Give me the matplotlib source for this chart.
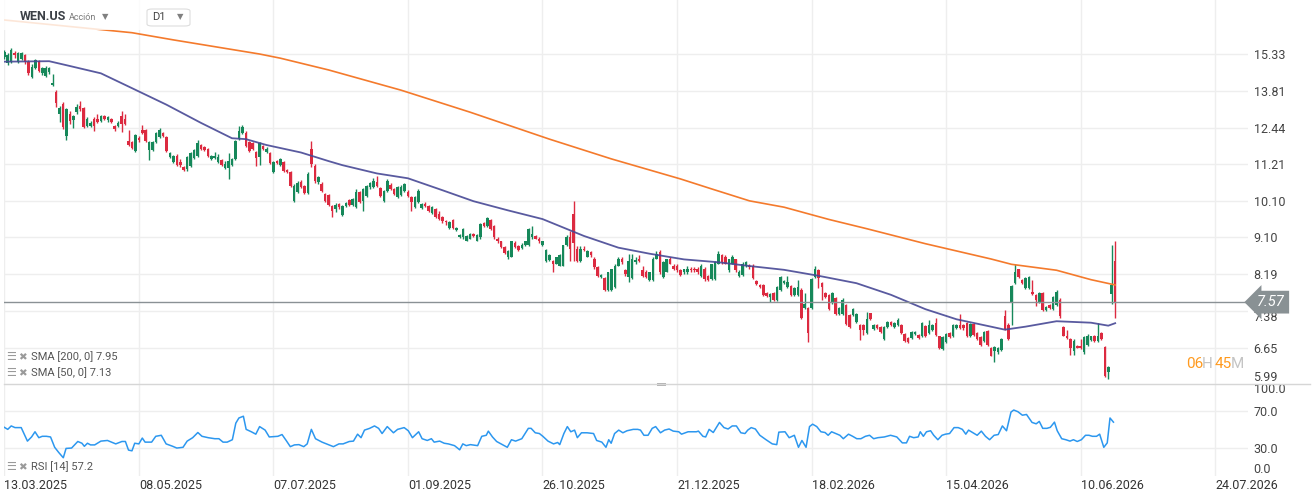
import numpy as np
import matplotlib.pyplot as plt
from matplotlib.patches import Rectangle, FancyBboxPatch
from matplotlib.lines import Line2D
from matplotlib.transforms import blended_transform_factory

plt.rcParams['font.family'] = ['Roboto', 'DejaVu Sans']

# daily candles, WEN.US
opens = [
    15.21, 14.96, 15.00, 15.39, 15.00, 15.13, 15.30, 15.00, 14.37, 14.74,
    15.04, 14.54, 14.41, 14.58, 14.05, 13.77, 12.92, 13.31, 12.14, 12.95,
    12.70, 12.99, 13.24, 13.17, 12.49, 12.49, 12.74, 12.74, 12.67, 12.85,
    12.70, 12.74, 12.49, 12.49, 12.85, 12.74, 11.97, 11.94, 11.64, 12.07,
    12.35, 12.35, 11.67, 11.67, 11.94, 12.11, 12.25, 12.11, 11.44, 11.28,
    11.47, 11.28, 11.12, 11.05, 11.15, 11.41, 11.47, 11.84, 11.77, 11.70,
    11.38, 11.41, 11.28, 11.34, 11.08, 11.08, 11.18, 11.38, 12.04, 12.25,
    12.25, 11.94, 11.90, 11.60, 11.44, 11.80, 11.60, 11.57, 10.96, 11.31,
    11.18, 11.28, 11.02, 10.96, 10.10, 10.37, 10.66, 10.54, 10.34, 11.70,
    11.15, 10.66, 10.60, 10.31, 10.28, 9.96, 9.87, 10.01, 9.71, 9.96,
    10.13, 9.99, 9.93, 10.37, 10.10, 10.25, 10.51, 10.51, 10.66, 10.48,
    10.10, 10.39, 10.57, 10.45, 10.22, 10.28, 10.39, 10.37, 10.22, 9.93,
    10.07, 9.90, 10.01, 9.96, 9.76, 9.87, 9.73, 9.65, 9.54, 9.35,
    9.57, 9.30, 9.12, 9.10, 9.02, 9.07, 9.20, 9.02, 9.10, 9.49,
    9.41, 9.57, 9.41, 9.07, 9.00, 8.85, 8.62, 8.62, 8.97, 8.87,
    8.82, 8.90, 8.90, 9.10, 9.15, 9.07, 8.90, 8.50, 8.53, 8.52,
    8.45, 8.40, 8.40, 8.90, 9.10, 9.73, 8.80, 8.50, 8.80, 8.62,
    8.72, 8.57, 8.36, 8.14, 8.11, 7.84, 7.84, 7.91, 8.40, 8.57,
    8.29, 8.14, 8.11, 8.48, 8.57, 8.29, 8.26, 8.07, 8.07, 8.57,
    8.72, 8.14, 8.26, 8.55, 8.40, 8.40, 8.29, 8.24, 8.24, 8.33,
    8.33, 8.33, 8.16, 8.33, 8.16, 8.09, 8.09, 8.45, 8.65, 8.62,
    8.29, 8.45, 8.55, 8.16, 8.18, 8.38, 8.40, 8.40, 8.05, 7.96,
    7.96, 7.78, 7.69, 7.78, 7.62, 7.84, 8.00, 7.91, 7.93, 7.73,
    7.73, 7.84, 7.45, 7.45, 7.45, 8.14, 8.29, 8.00, 7.78, 7.73,
    7.56, 7.67, 7.31, 7.31, 7.51, 7.29, 7.29, 7.16, 7.10, 7.10,
    6.94, 7.33, 7.02, 7.10, 7.06, 6.81, 7.06, 7.16, 7.06, 7.10,
    7.10, 6.92, 6.83, 6.83, 6.92, 6.90, 6.87, 7.08, 6.94, 7.00,
    7.14, 6.87, 6.62, 6.75, 6.94, 6.87, 7.04, 7.10, 7.10, 7.14,
    6.87, 7.12, 6.94, 6.85, 6.77, 6.98, 6.65, 6.58, 6.56, 6.60,
    7.27, 7.10, 7.56, 8.00, 8.31, 8.07, 7.89, 7.89, 7.80, 7.73,
    7.58, 7.78, 7.41, 7.51, 7.43, 7.51, 7.62, 7.06, 6.88, 6.81,
    6.58, 6.69, 6.69, 6.56, 6.71, 6.79, 6.88, 6.77, 6.94, 6.67,
    6.20, 7.75, 8.50,
]
highs = [
    15.52, 15.39, 15.61, 15.47, 15.43, 15.43, 15.34, 15.08, 14.91, 15.13,
    15.08, 14.79, 14.83, 14.79, 14.50, 13.85, 13.24, 13.39, 13.17, 13.03,
    12.88, 13.31, 13.43, 13.21, 12.81, 12.67, 12.81, 12.95, 12.88, 12.88,
    12.85, 12.78, 12.53, 12.67, 13.03, 12.95, 12.35, 11.97, 12.21, 12.14,
    12.53, 12.39, 11.97, 11.97, 12.28, 12.42, 12.28, 12.14, 11.60, 11.51,
    11.54, 11.38, 11.15, 11.47, 11.60, 11.70, 12.01, 11.87, 11.80, 11.74,
    11.51, 11.60, 11.54, 11.38, 11.31, 11.57, 11.41, 12.01, 12.49, 12.53,
    12.32, 11.97, 11.94, 11.64, 11.94, 11.84, 11.77, 11.60, 11.31, 11.34,
    11.41, 11.31, 11.05, 10.99, 10.60, 10.69, 10.72, 10.57, 10.96, 11.97,
    11.21, 10.84, 10.66, 10.34, 10.31, 9.99, 10.04, 10.04, 9.99, 10.07,
    10.16, 10.19, 10.45, 10.39, 10.48, 10.57, 10.66, 10.78, 10.84, 10.51,
    10.42, 10.75, 10.63, 10.48, 10.54, 10.57, 10.63, 10.42, 10.25, 10.25,
    10.45, 10.04, 10.07, 9.99, 9.96, 9.90, 9.82, 9.68, 9.57, 9.54,
    9.59, 9.38, 9.20, 9.35, 9.17, 9.22, 9.22, 9.20, 9.49, 9.51,
    9.65, 9.59, 9.43, 9.10, 9.02, 8.87, 8.77, 9.02, 9.00, 8.90,
    8.95, 9.02, 9.35, 9.41, 9.17, 9.10, 9.02, 8.80, 8.67, 8.53,
    8.62, 8.67, 8.92, 9.17, 9.28, 10.10, 8.87, 8.87, 8.87, 8.77,
    8.75, 8.60, 8.38, 8.20, 8.14, 8.26, 8.33, 8.43, 8.62, 8.60,
    8.31, 8.67, 8.67, 8.62, 8.65, 8.38, 8.29, 8.26, 8.60, 8.75,
    8.77, 8.50, 8.57, 8.60, 8.43, 8.43, 8.31, 8.33, 8.40, 8.36,
    8.36, 8.36, 8.43, 8.36, 8.18, 8.45, 8.50, 8.75, 8.67, 8.65,
    8.57, 8.65, 8.57, 8.29, 8.48, 8.52, 8.45, 8.43, 8.07, 7.98,
    7.98, 7.80, 7.78, 7.80, 7.93, 8.16, 8.07, 8.16, 7.96, 7.91,
    8.07, 7.89, 7.78, 7.47, 8.11, 8.40, 8.31, 8.02, 7.80, 7.75,
    7.80, 7.69, 7.47, 7.67, 7.54, 7.31, 7.45, 7.33, 7.12, 7.12,
    7.37, 7.35, 7.12, 7.12, 7.08, 7.08, 7.18, 7.18, 7.16, 7.24,
    7.12, 6.94, 6.85, 6.98, 6.98, 6.92, 7.16, 7.10, 7.20, 7.12,
    7.24, 6.88, 6.87, 6.94, 6.96, 7.12, 7.12, 7.31, 7.12, 7.16,
    7.14, 7.14, 6.96, 6.87, 6.98, 7.00, 6.67, 6.69, 6.67, 6.83,
    7.41, 7.14, 7.96, 8.45, 8.33, 8.09, 8.14, 8.16, 8.07, 7.75,
    7.80, 7.80, 7.49, 7.54, 7.71, 7.84, 7.65, 7.08, 7.00, 6.83,
    6.81, 6.71, 6.81, 6.87, 6.92, 6.88, 6.90, 7.14, 6.96, 6.69,
    6.31, 8.90, 9.02,
]
lows = [
    15.13, 14.87, 14.96, 15.17, 14.96, 15.08, 14.91, 14.45, 14.33, 14.70,
    14.58, 14.45, 14.37, 14.50, 14.01, 13.21, 12.63, 12.39, 12.01, 12.56,
    12.42, 12.92, 13.03, 12.42, 12.46, 12.46, 12.32, 12.60, 12.63, 12.70,
    12.63, 12.60, 12.32, 12.46, 12.28, 12.53, 11.80, 11.70, 11.60, 11.94,
    12.21, 11.94, 11.34, 11.64, 11.90, 12.07, 12.11, 11.60, 11.41, 11.25,
    11.15, 11.12, 10.99, 10.99, 11.12, 11.38, 11.44, 11.67, 11.64, 11.44,
    11.34, 11.38, 11.25, 11.15, 11.05, 10.75, 11.15, 11.34, 12.01, 12.21,
    11.77, 11.60, 11.67, 11.15, 11.18, 11.67, 11.57, 11.21, 10.93, 11.21,
    11.15, 10.96, 10.93, 10.51, 10.07, 10.34, 10.48, 10.31, 10.31, 11.12,
    10.63, 10.60, 10.37, 10.07, 9.96, 9.65, 9.79, 9.87, 9.68, 9.93,
    9.96, 9.96, 9.90, 10.04, 9.82, 10.22, 10.45, 10.48, 10.51, 10.22,
    10.07, 10.37, 10.42, 10.28, 10.19, 10.25, 10.37, 10.22, 9.82, 9.90,
    10.04, 9.87, 9.93, 9.79, 9.73, 9.62, 9.57, 9.49, 9.43, 9.33,
    9.33, 9.28, 9.09, 9.07, 9.00, 9.05, 9.10, 9.00, 9.07, 9.38,
    9.38, 9.30, 9.07, 8.97, 8.82, 8.67, 8.57, 8.60, 8.82, 8.75,
    8.80, 8.87, 8.87, 9.07, 9.05, 8.97, 8.87, 8.48, 8.52, 8.26,
    8.43, 8.38, 8.38, 8.87, 8.52, 8.52, 8.48, 8.48, 8.75, 8.60,
    8.62, 8.33, 8.14, 8.11, 7.82, 7.82, 7.82, 7.89, 8.38, 8.45,
    8.16, 8.02, 8.09, 8.45, 8.48, 8.14, 8.11, 8.05, 8.05, 8.55,
    8.20, 8.11, 8.24, 8.43, 8.29, 8.26, 8.16, 8.20, 8.20, 8.26,
    8.26, 8.20, 8.14, 8.05, 8.05, 8.07, 8.07, 8.43, 8.45, 8.43,
    8.26, 8.43, 8.26, 8.14, 8.16, 8.36, 8.33, 8.09, 7.96, 7.89,
    7.71, 7.69, 7.58, 7.60, 7.60, 7.82, 7.98, 7.89, 7.71, 7.71,
    7.71, 7.22, 7.43, 6.75, 7.43, 8.11, 7.89, 7.62, 7.67, 7.41,
    7.54, 7.29, 7.29, 7.29, 7.10, 7.04, 7.27, 7.14, 6.79, 6.90,
    6.92, 7.20, 7.00, 7.02, 6.94, 6.79, 7.04, 7.08, 7.04, 7.08,
    6.92, 6.75, 6.73, 6.81, 6.90, 6.81, 6.85, 6.85, 6.92, 6.98,
    6.88, 6.62, 6.60, 6.73, 6.83, 6.85, 7.02, 7.02, 7.00, 6.85,
    6.85, 6.88, 6.79, 6.69, 6.75, 6.69, 6.49, 6.38, 6.54, 6.58,
    7.00, 6.79, 7.10, 7.98, 8.11, 7.98, 7.87, 7.87, 7.73, 7.49,
    7.56, 7.39, 7.39, 7.43, 7.41, 7.49, 7.24, 6.87, 6.81, 6.52,
    6.52, 6.64, 6.62, 6.54, 6.69, 6.77, 6.75, 6.75, 6.79, 6.11,
    6.08, 7.52, 7.24,
]
closes = [
    15.43, 15.30, 15.52, 15.30, 15.39, 15.39, 15.00, 14.54, 14.79, 15.08,
    14.62, 14.74, 14.74, 14.74, 14.13, 13.35, 13.17, 12.46, 13.10, 12.67,
    12.85, 13.21, 13.10, 12.46, 12.74, 12.60, 12.49, 12.63, 12.85, 12.74,
    12.81, 12.63, 12.39, 12.60, 12.56, 12.56, 11.84, 11.74, 12.18, 12.01,
    12.25, 11.97, 11.94, 11.94, 12.25, 12.35, 12.14, 11.64, 11.57, 11.47,
    11.18, 11.18, 11.02, 11.44, 11.57, 11.67, 11.90, 11.70, 11.67, 11.47,
    11.47, 11.47, 11.44, 11.18, 11.21, 11.31, 11.38, 11.97, 12.32, 12.46,
    11.80, 11.64, 11.70, 11.41, 11.90, 11.70, 11.70, 11.25, 11.28, 11.25,
    11.38, 10.99, 10.96, 10.54, 10.54, 10.63, 10.51, 10.34, 10.90, 11.21,
    10.69, 10.81, 10.39, 10.10, 9.99, 9.82, 9.99, 9.93, 9.96, 10.04,
    9.99, 10.16, 10.37, 10.07, 10.45, 10.54, 10.63, 10.69, 10.54, 10.25,
    10.39, 10.69, 10.45, 10.31, 10.51, 10.51, 10.60, 10.25, 10.07, 10.22,
    10.39, 10.01, 9.96, 9.82, 9.93, 9.65, 9.59, 9.54, 9.51, 9.51,
    9.35, 9.35, 9.17, 9.33, 9.15, 9.20, 9.15, 9.17, 9.46, 9.41,
    9.62, 9.33, 9.10, 9.00, 8.85, 8.70, 8.75, 9.00, 8.85, 8.77,
    8.92, 9.00, 9.33, 9.20, 9.07, 9.00, 9.00, 8.77, 8.65, 8.45,
    8.60, 8.65, 8.90, 9.10, 8.80, 8.95, 8.50, 8.80, 8.77, 8.75,
    8.65, 8.36, 8.16, 8.18, 7.84, 8.24, 8.31, 8.40, 8.57, 8.48,
    8.20, 8.52, 8.57, 8.53, 8.50, 8.16, 8.14, 8.24, 8.57, 8.67,
    8.24, 8.48, 8.55, 8.45, 8.31, 8.29, 8.18, 8.31, 8.33, 8.29,
    8.29, 8.24, 8.40, 8.09, 8.07, 8.43, 8.48, 8.67, 8.48, 8.45,
    8.55, 8.62, 8.29, 8.24, 8.45, 8.48, 8.36, 8.11, 7.98, 7.91,
    7.73, 7.71, 7.75, 7.62, 7.91, 8.14, 8.05, 8.02, 7.73, 7.89,
    7.91, 7.24, 7.52, 6.94, 8.09, 8.33, 8.11, 7.91, 7.69, 7.43,
    7.78, 7.31, 7.45, 7.62, 7.12, 7.06, 7.43, 7.31, 7.00, 7.00,
    7.22, 7.22, 7.10, 7.04, 6.96, 7.06, 7.16, 7.10, 7.14, 7.20,
    6.94, 6.77, 6.75, 6.96, 6.96, 6.83, 7.14, 6.87, 7.10, 7.10,
    6.90, 6.65, 6.85, 6.92, 6.85, 7.10, 7.10, 7.04, 7.04, 6.87,
    7.12, 6.90, 6.81, 6.71, 6.96, 6.71, 6.50, 6.67, 6.65, 6.81,
    7.02, 6.81, 7.93, 8.24, 8.14, 8.00, 8.11, 8.14, 7.75, 7.62,
    7.78, 7.41, 7.47, 7.45, 7.69, 7.80, 7.27, 6.88, 6.83, 6.65,
    6.77, 6.65, 6.64, 6.85, 6.87, 6.87, 6.77, 6.87, 6.81, 6.13,
    6.29, 7.96, 7.57,
]

# moving averages, read at points along the lines (bar index, value)
sma200_idx = [0, 37, 49, 74, 80, 94, 115, 135, 158, 176, 196, 205, 216, 226,
              239, 250, 267, 286, 292, 305, 315, 322]
sma200_val = [16.90, 16.30, 15.97, 15.34, 15.16, 14.66, 13.84, 13.00, 12.04,
              11.38, 10.75, 10.45, 10.10, 9.92, 9.58, 9.33, 8.94, 8.56, 8.43,
              8.29, 8.07, 7.95]
sma50_idx = [0, 13, 18, 28, 37, 47, 57, 66, 70, 76, 86, 94, 98, 108, 117, 127,
             136, 146, 156, 168, 178, 187, 197, 207, 216, 226, 236, 247, 257,
             267, 276, 286, 290, 296, 305, 315, 320, 322]
sma50_val = [15.01, 15.03, 14.86, 14.52, 13.92, 13.28, 12.61, 12.07, 12.04,
             11.84, 11.59, 11.31, 11.18, 10.92, 10.77, 10.41, 10.09, 9.83, 9.59,
             9.14, 8.84, 8.69, 8.55, 8.48, 8.39, 8.30, 8.16, 7.99, 7.73, 7.42,
             7.21, 7.06, 7.00, 7.06, 7.17, 7.14, 7.08, 7.13]

# RSI(14)
rsi_idx = [0, 1, 2, 3.1, 4.9, 6.7, 7.9, 8.9, 10, 11, 12.2, 13.4, 14.6, 15.8,
           17.1, 17.9, 19.5, 21.3, 22.5, 23.2, 24.1, 25, 26.2, 28, 29.9, 31.1,
           32.3, 34.1, 35.1, 36, 37, 37.8, 39, 40, 40.8, 42.7, 43.9, 45.5, 46.9,
           48.8, 50, 51.8, 53, 54.6, 56.1, 57.3, 59.1, 61, 62.2, 63.4, 64.6,
           66.1, 67.1, 68, 69.3, 70.1, 71.6, 72.9, 74, 75.6, 76.8, 79.3, 80.5,
           81.7, 82.9, 84.1, 85.4, 86.8, 87.8, 89, 90.2, 92.1, 93.9, 95.4, 97,
           98.2, 100, 101.2, 102.4, 103.4, 104.4, 105.9, 107.3, 108.5, 109.5,
           111, 112.8, 114, 115.9, 117.1, 118.3, 120.1, 121.1, 122.6, 123.8,
           124.6, 126.2, 127.5, 128.7, 130.5, 132, 132.9, 133.9, 135.1, 137.2,
           138.4, 139.7, 140.3, 141.5, 142.7, 144.5, 145.8, 147, 148.2, 150,
           151.9, 152.7, 153.9, 155.1, 156.1, 157.6, 159.2, 160.4, 161, 162.2,
           163.2, 164.2, 165.3, 166.1, 167.3, 168.9, 170.8, 171.7, 173.2, 174.4,
           175.2, 175.9, 176.9, 178.1, 179.3, 180.5, 182.3, 183.6, 184.4, 185.4,
           186.6, 187.8, 188.8, 190.2, 191.4, 192.7, 193.9, 195.5, 196.3, 198.2,
           199.4, 200.6, 201.2, 202.5, 203.3, 204.3, 205.5, 207.3, 208.6, 209.8,
           211, 212.2, 213.5, 214.7, 215.5, 216.5, 217.7, 219, 220.8, 222.6,
           223.9, 224.5, 226.3, 227.5, 229, 230.2, 231.2, 232.4, 233.4, 234.3,
           235.5, 236.7, 237.9, 238.8, 239.8, 241, 242.2, 243.2, 244.7, 245.9,
           247.1, 248.3, 249.6, 250.8, 252, 253.2, 255.1, 256.9, 258.7, 260.3,
           261.5, 262.4, 263.6, 264.9, 265.5, 266.4, 267.3, 268.5, 269.4, 270.6,
           271.8, 272.8, 274, 275.3, 276.5, 277.7, 278.7, 279.5, 280.8, 282,
           283.2, 284.4, 285.6, 286.9, 288.1, 289.3, 290.5, 291.8, 292.6, 293.8,
           295.1, 296.3, 297.9, 299.1, 300, 301, 302.2, 303.2, 304.4, 305.2,
           306.5, 307.7, 308.9, 309.9, 311, 312.2, 313.4, 314.4, 315.4, 316.6,
           317.5, 318.7, 319.7, 320.5, 321.5]
rsi_val = [52.4, 50.2, 53.9, 52.1, 52.1, 37.5, 42.0, 47.6, 41.2, 42.7, 42.7,
           42.0, 30.8, 25.1, 19.5, 29.6, 30.0, 37.1, 35.2, 31.9, 35.2, 33.4,
           33.4, 37.5, 38.2, 36.4, 34.5, 37.1, 37.1, 27.8, 27.0, 35.2, 34.5,
           40.8, 36.4, 36.4, 42.7, 43.8, 34.5, 31.9, 30.0, 30.8, 37.5, 41.2,
           46.8, 42.7, 41.2, 40.1, 40.1, 36.4, 36.4, 39.0, 56.9, 62.5, 64.4,
           50.2, 47.6, 45.0, 53.2, 49.4, 42.0, 42.7, 44.6, 38.2, 31.5, 33.4,
           33.7, 31.5, 34.5, 50.2, 40.1, 36.4, 33.7, 31.5, 34.5, 34.5, 37.1,
           37.5, 45.0, 41.2, 49.4, 51.3, 53.9, 51.3, 45.7, 53.2, 46.5, 50.2,
           52.1, 48.7, 41.2, 47.6, 40.1, 38.2, 40.1, 36.4, 37.5, 35.2, 34.5,
           32.6, 28.1, 34.5, 32.6, 33.7, 32.6, 42.7, 43.8, 48.3, 42.0, 37.1,
           33.4, 30.8, 39.0, 37.5, 40.1, 51.3, 51.3, 46.5, 45.7, 42.7, 37.5,
           34.5, 36.0, 33.7, 45.7, 53.2, 47.6, 49.4, 41.2, 46.5, 46.5, 45.7,
           38.2, 36.4, 30.8, 39.0, 35.2, 45.7, 49.4, 46.5, 48.7, 50.2, 50.2,
           49.4, 43.8, 43.8, 51.3, 53.2, 46.5, 49.4, 50.6, 48.3, 47.6, 45.0,
           47.6, 47.6, 47.6, 48.3, 42.7, 42.0, 50.2, 46.8, 57.7, 52.1, 50.6,
           53.9, 53.9, 46.5, 45.7, 49.4, 52.1, 50.6, 43.8, 39.0, 34.5, 33.7,
           47.2, 47.6, 41.2, 43.8, 30.8, 38.2, 30.8, 53.2, 55.8, 53.2, 47.6,
           46.8, 43.8, 47.6, 45.7, 43.8, 40.1, 45.0, 42.7, 40.1, 40.1, 42.7,
           43.8, 40.1, 41.2, 42.0, 43.8, 42.0, 35.6, 35.6, 42.7, 41.2, 42.0,
           47.6, 42.7, 47.6, 48.7, 43.8, 39.0, 43.8, 45.0, 45.7, 52.1, 52.1,
           50.2, 45.0, 49.4, 46.5, 43.8, 48.3, 42.7, 39.0, 43.8, 44.6, 53.9,
           48.7, 68.9, 71.1, 69.3, 65.5, 66.3, 57.7, 56.2, 58.8, 51.3, 51.3,
           52.4, 58.0, 48.7, 40.1, 39.0, 37.5, 39.0, 37.1, 39.0, 43.8, 43.8,
           42.7, 42.7, 45.0, 30.8, 35.6, 62.5, 58.0]

price_ticks = [5.99, 6.65, 7.38, 8.19, 9.10, 10.10, 11.21, 12.44, 13.81, 15.33]
rsi_ticks = [0, 30, 70, 100]
date_idx = [0, 39, 78, 117, 156, 195, 234, 273, 312, 351]
date_labels = ['13.03.2025', '08.05.2025', '07.07.2025', '01.09.2025',
               '26.10.2025', '21.12.2025', '18.02.2026', '15.04.2026',
               '10.06.2026', '24.07.2026']
last_price = 7.57

GREEN = '#16885a'
RED = '#dc2a40'
GRID = '#eeeeee'

W, H = 1312, 501
fig = plt.figure(figsize=(W / 100, H / 100), dpi=100)


def box(l, t, r, b):
    return [l / W, 1 - b / H, (r - l) / W, (b - t) / H]


ax = fig.add_axes(box(4, 0, 1248, 384.4))
rx = fig.add_axes(box(4, 383.3, 1248, 475.8), sharex=ax)

o, h, l, c = (np.array(v) for v in (opens, highs, lows, closes))
x = np.arange(len(c))
col = np.where(c >= o, GREEN, RED)
ax.vlines(x, l, h, colors=col, lw=1, zorder=3)
ax.bar(x, np.maximum(np.abs(c - o), 0.012), bottom=np.minimum(o, c),
       width=0.74, color=col, lw=0, zorder=3)

ax.plot(sma200_idx, sma200_val, color='#f47a2c', lw=1.2, zorder=4)
ax.plot(sma50_idx, sma50_val, color='#474895', lw=1.3, alpha=0.9, zorder=4)
ax.axhline(last_price, color='#8a9195', lw=1, zorder=5)

ax.set_yscale('log')
ax.set_ylim(5.99, 17.89)
ax.set_xlim(-0.09, 360.5)
ax.set_yticks(price_ticks)
ax.set_yticklabels([f'{p:.2f}' for p in price_ticks])
ax.yaxis.set_minor_locator(plt.NullLocator())
ax.set_xticks(date_idx)
ax.tick_params(axis='y', left=False, labelleft=False, right=True, labelright=True,
               length=0, pad=4, labelsize=9, labelcolor='#444444')
ax.tick_params(axis='x', length=0, labelbottom=False)
ax.yaxis.get_ticklabels()[0].set_va('bottom')
# 7.38 sits partly under the price tag, as in the original
ax.yaxis.get_ticklabels()[2].set_va('top')
ax.grid(color=GRID, lw=1, zorder=0)
for s in ax.spines.values():
    s.set_visible(False)

rx.plot(rsi_idx, rsi_val, color='#2c97ef', lw=1.1)
rx.set_ylim(0, 100)
rx.set_yticks(rsi_ticks)
rx.set_yticklabels([f'{v:.1f}' for v in rsi_ticks])
rx.set_xticks(date_idx)
rx.set_xticklabels(date_labels)
rx.tick_params(axis='y', left=False, labelleft=False, right=True, labelright=True,
               length=0, pad=4, labelsize=9, labelcolor='#444444')
rx.tick_params(axis='x', length=0, pad=2, labelsize=9, labelcolor='#333333')
for t in rx.get_xticklabels():
    t.set_ha('left')
rx.yaxis.get_ticklabels()[0].set_va('bottom')
rx.yaxis.get_ticklabels()[-1].set_va('top')
rx.grid(color=GRID, lw=1)
rx.get_ygridlines()[0].set_visible(False)
rx.get_ygridlines()[-1].set_visible(False)
for s in rx.spines.values():
    s.set_visible(False)

# panel separator
fig.add_artist(Line2D([4 / W, 1310 / W], [1 - 384 / H] * 2, color='#d6d6d6', lw=1))
fig.add_artist(Rectangle((657 / W, 1 - 385.5 / H), 9 / W, 2.5 / H, color='#b0b0b0', lw=0))

# last price tag
tr = blended_transform_factory(fig.transFigure, ax.transData)
ax.text(1257 / W, last_price, f'{last_price:.2f}', transform=tr, color='white',
        fontsize=10.5, fontstyle='italic', va='center', ha='left', zorder=10,
        clip_on=False,
        bbox=dict(boxstyle='larrow,pad=0.3', fc='#899194', ec='none'))

# countdown
for txt, xp, cl in [('06', 1186, '#ff9a1e'), ('H', 1202, '#c4c4c4'),
                    ('45', 1215, '#ff9a1e'), ('M', 1231, '#c4c4c4')]:
    fig.text(xp / W, 1 - 364 / H, txt, color=cl, fontsize=11, va='center')

# header
fig.add_artist(Rectangle((0, 1 - 30 / H), 200 / W, 30 / H, fc='white', alpha=0.82, lw=0))
fig.text(20 / W, 1 - 17 / H, 'WEN.US', fontsize=9, weight='bold', color='#3b4046', va='center')
fig.text(69 / W, 1 - 18 / H, 'Acción', fontsize=6.5, color='#7a7a7a', va='center')
fig.text(102 / W, 1 - 17 / H, '▼', fontsize=6, color='#808080', va='center')
fig.add_artist(FancyBboxPatch((147 / W, 1 - 26 / H), 43 / W, 17 / H,
                              boxstyle='round,pad=0,rounding_size=0.004',
                              fc='white', ec='#dddddd', lw=0.8))
fig.text(152 / W, 1 - 17.5 / H, 'D1', fontsize=8, color='#444444', va='center')
fig.text(177 / W, 1 - 17 / H, '▼', fontsize=6, color='#808080', va='center')

# indicator legends
for label, yp in [('SMA [200, 0] 7.95', 357), ('SMA [50, 0] 7.13', 373),
                  ('RSI [14] 57.2', 467)]:
    fig.text(6 / W, 1 - yp / H, '☰', fontsize=8, color='#9a9a9a', va='center')
    fig.text(18 / W, 1 - yp / H, '✖', fontsize=7.5, color='#9a9a9a', va='center')
    fig.text(31 / W, 1 - yp / H, label, fontsize=8, color='#555555', va='center')

fig.savefig('out.png', dpi=100)
